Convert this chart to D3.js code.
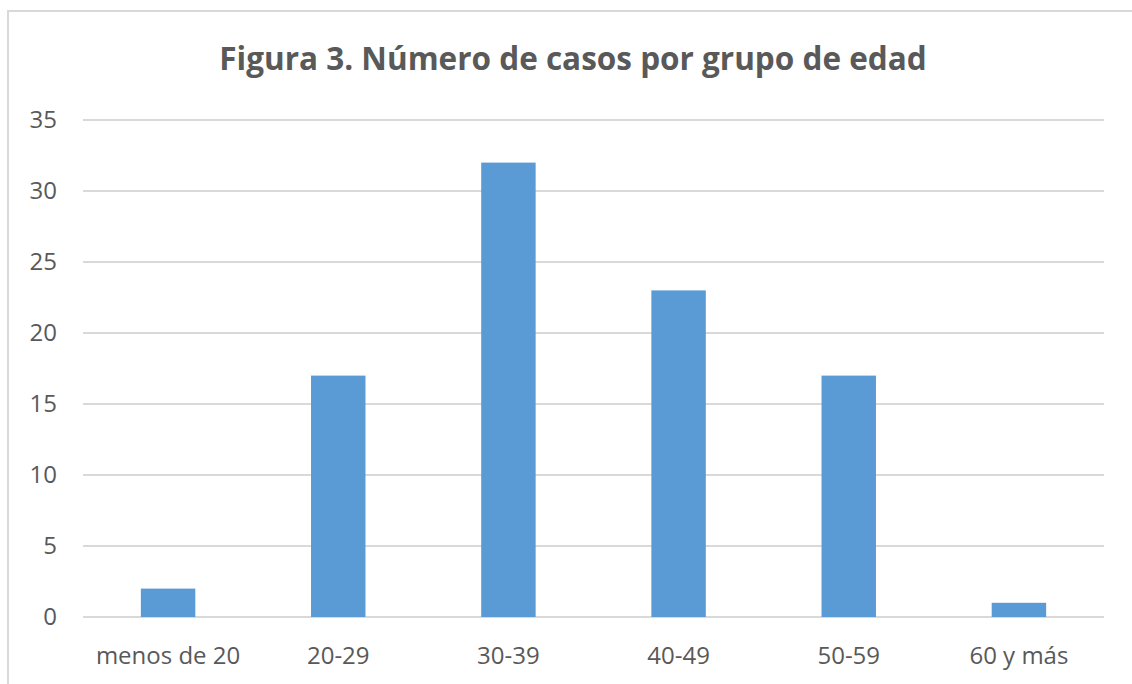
<!DOCTYPE html>
<html>
<head>
<meta charset="utf-8">
<script src="https://cdn.jsdelivr.net/npm/d3@7"></script>
<style>
  html, body { margin: 0; padding: 0; background: #fff; }
  svg { display: block; }
</style>
</head>
<body>
<script>
const title = 'Figura 3. Número de casos por grupo de edad';
const categories = ['menos de 20', '20-29', '30-39', '40-49', '50-59', '60 y más'];
const values = [2, 17, 32, 23, 17, 1];
const yTicks = [0, 5, 10, 15, 20, 25, 30, 35];

const width = 1132, height = 684;
const margin = { top: 120, right: 28, bottom: 67, left: 83 };

const svg = d3.select('body').append('svg')
    .attr('width', width)
    .attr('height', height);

// chart frame (runs off right and bottom edge like the screenshot)
svg.append('rect')
    .attr('x', 8).attr('y', 11)
    .attr('width', 1140).attr('height', 700)
    .attr('fill', 'none')
    .attr('stroke', '#d9d9d9')
    .attr('stroke-width', 2);

const x = d3.scaleBand()
    .domain(categories)
    .range([margin.left, width - margin.right])
    .paddingInner(0.68)
    .paddingOuter(0.34);

const y = d3.scaleLinear()
    .domain([0, 35])
    .range([height - margin.bottom, margin.top]);

// gridlines
svg.append('g')
    .selectAll('line')
    .data(yTicks)
    .join('line')
    .attr('x1', margin.left)
    .attr('x2', width - margin.right)
    .attr('y1', d => y(d))
    .attr('y2', d => y(d))
    .attr('stroke', '#d9d9d9')
    .attr('stroke-width', 2);

// y labels
svg.append('g')
    .selectAll('text')
    .data(yTicks)
    .join('text')
    .attr('x', 57)
    .attr('y', d => y(d))
    .attr('dy', '0.35em')
    .attr('text-anchor', 'end')
    .attr('font-family', 'Open Sans, sans-serif')
    .attr('font-size', 24)
    .attr('fill', '#595959')
    .text(d => d);

// bars
svg.append('g')
    .selectAll('rect')
    .data(values)
    .join('rect')
    .attr('x', (d, i) => x(categories[i]))
    .attr('width', x.bandwidth())
    .attr('y', d => y(d))
    .attr('height', d => y(0) - y(d))
    .attr('fill', '#5b9bd5');

// x labels
svg.append('g')
    .selectAll('text')
    .data(categories)
    .join('text')
    .attr('x', d => x(d) + x.bandwidth() / 2)
    .attr('y', 664)
    .attr('text-anchor', 'middle')
    .attr('font-family', 'Open Sans, sans-serif')
    .attr('font-size', 24)
    .attr('fill', '#595959')
    .text(d => d);

svg.append('text')
    .attr('x', 573)
    .attr('y', 70)
    .attr('text-anchor', 'middle')
    .attr('font-family', 'Open Sans, sans-serif')
    .attr('font-weight', 'bold')
    .attr('font-size', 31.5)
    .attr('fill', '#595959')
    .text(title);
</script>
</body>
</html>
